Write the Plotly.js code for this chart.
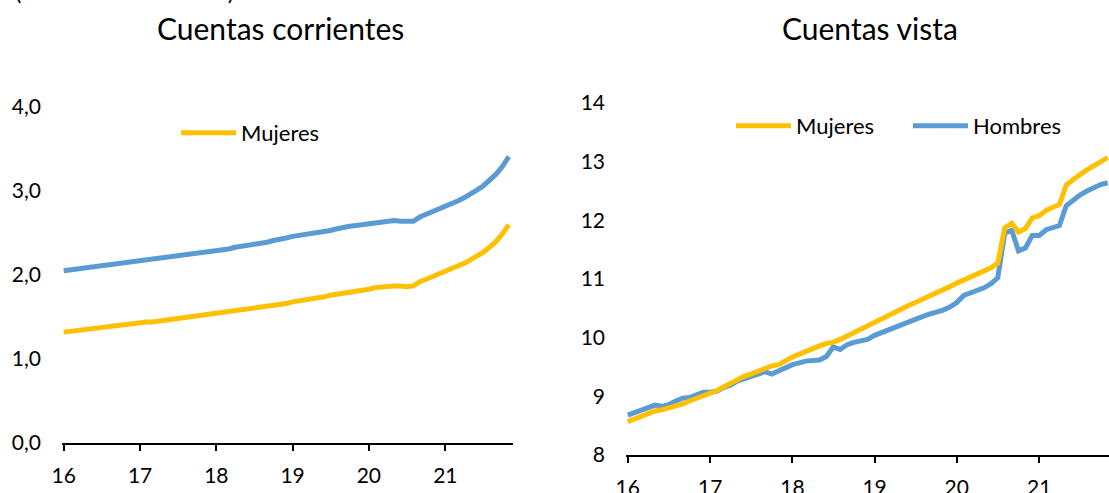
<!DOCTYPE html>
<html>
<head>
<meta charset="utf-8">
<script src="https://cdn.plot.ly/plotly-3.0.1.min.js"></script>
<style>
  html, body { margin: 0; padding: 0; background: #ffffff; }
  #grafico { width: 1109px; height: 493px; }
</style>
</head>
<body>
<div id="grafico"></div>
<script>
// Meses (ene-2016 a nov-2021)
const meses = [
  '2016-01-01','2016-02-01','2016-03-01','2016-04-01','2016-05-01','2016-06-01','2016-07-01','2016-08-01','2016-09-01','2016-10-01','2016-11-01','2016-12-01',
  '2017-01-01','2017-02-01','2017-03-01','2017-04-01','2017-05-01','2017-06-01','2017-07-01','2017-08-01','2017-09-01','2017-10-01','2017-11-01','2017-12-01',
  '2018-01-01','2018-02-01','2018-03-01','2018-04-01','2018-05-01','2018-06-01','2018-07-01','2018-08-01','2018-09-01','2018-10-01','2018-11-01','2018-12-01',
  '2019-01-01','2019-02-01','2019-03-01','2019-04-01','2019-05-01','2019-06-01','2019-07-01','2019-08-01','2019-09-01','2019-10-01','2019-11-01','2019-12-01',
  '2020-01-01','2020-02-01','2020-03-01','2020-04-01','2020-05-01','2020-06-01','2020-07-01','2020-08-01','2020-09-01','2020-10-01','2020-11-01','2020-12-01',
  '2021-01-01','2021-02-01','2021-03-01','2021-04-01','2021-05-01','2021-06-01','2021-07-01','2021-08-01','2021-09-01','2021-10-01','2021-11-01'
];

// Cuentas corrientes (millones de cuentas)
const corrientesMujeres = [
  1.32,1.33,1.34,1.35,1.36,1.37,1.38,1.39,1.40,1.41,1.42,1.42,
  1.43,1.44,1.44,1.45,1.46,1.47,1.48,1.49,1.50,1.51,1.52,1.53,
  1.54,1.55,1.56,1.57,1.58,1.59,1.60,1.61,1.62,1.64,1.65,1.66,
  1.68,1.69,1.70,1.71,1.73,1.74,1.76,1.77,1.79,1.80,1.81,1.82,
  1.83,1.85,1.86,1.87,1.87,1.87,1.86,1.87,1.92,1.95,1.98,2.01,
  2.04,2.07,2.10,2.14,2.18,2.22,2.27,2.33,2.40,2.49,2.60
];
const corrientesHombres = [
  2.05,2.06,2.07,2.08,2.09,2.10,2.11,2.12,2.13,2.14,2.15,2.16,
  2.17,2.18,2.19,2.20,2.21,2.22,2.23,2.24,2.25,2.26,2.27,2.28,
  2.29,2.30,2.31,2.33,2.34,2.35,2.36,2.38,2.39,2.41,2.42,2.44,
  2.46,2.47,2.48,2.49,2.50,2.52,2.53,2.55,2.57,2.58,2.59,2.60,
  2.61,2.62,2.63,2.64,2.65,2.64,2.64,2.64,2.69,2.72,2.75,2.78,
  2.81,2.84,2.88,2.92,2.96,3.01,3.06,3.13,3.20,3.29,3.41
];

// Cuentas vista (millones de cuentas)
const vistaMujeres = [
  8.57,8.62,8.66,8.70,8.75,8.77,8.80,8.83,8.87,8.92,8.96,9.00,
  9.04,9.10,9.16,9.22,9.29,9.34,9.38,9.43,9.48,9.52,9.54,9.61,
  9.67,9.72,9.77,9.82,9.86,9.90,9.92,9.97,10.03,10.08,10.15,10.21,
  10.28,10.33,10.39,10.45,10.50,10.55,10.60,10.65,10.70,10.75,10.80,10.87,
  10.93,10.98,11.04,11.09,11.14,11.19,11.27,11.87,11.95,11.80,11.86,12.04,
  12.08,12.17,12.22,12.27,12.60,12.70,12.78,12.86,12.93,13.00,13.07
];
const vistaHombres = [
  8.68,8.72,8.76,8.80,8.85,8.83,8.86,8.92,8.97,8.98,9.02,9.07,
  9.07,9.09,9.15,9.19,9.26,9.30,9.34,9.38,9.42,9.38,9.44,9.49,
  9.54,9.57,9.60,9.61,9.62,9.68,9.84,9.80,9.88,9.92,9.95,9.97,
  10.04,10.09,10.13,10.18,10.23,10.27,10.31,10.36,10.40,10.43,10.47,10.52,
  10.60,10.72,10.76,10.80,10.85,10.92,11.02,11.78,11.83,11.48,11.53,11.74,
  11.74,11.84,11.88,11.91,12.25,12.35,12.43,12.50,12.56,12.61,12.64
];

const titulos = ['Cuentas corrientes', 'Cuentas vista'];
const unidad = '(millones de cuentas)';

const AMARILLO = '#FFC000';
const AZUL = '#5B9BD5';
const FUENTE = 'Lato, "Open Sans", sans-serif';

const trazas = [
  { x: meses, y: corrientesHombres, name: 'Hombres', xaxis: 'x', yaxis: 'y',
    mode: 'lines', line: { color: AZUL, width: 5 }, showlegend: false },
  { x: meses, y: corrientesMujeres, name: 'Mujeres', xaxis: 'x', yaxis: 'y',
    mode: 'lines', line: { color: AMARILLO, width: 5 }, legend: 'legend' },
  { x: meses, y: vistaHombres, name: 'Hombres', xaxis: 'x2', yaxis: 'y2',
    mode: 'lines', line: { color: AZUL, width: 5 }, legend: 'legend2', legendrank: 2 },
  { x: meses, y: vistaMujeres, name: 'Mujeres', xaxis: 'x2', yaxis: 'y2',
    mode: 'lines', line: { color: AMARILLO, width: 5 }, legend: 'legend2', legendrank: 1 }
];

const ejeX = {
  type: 'date',
  tick0: '2016-01-01', dtick: 'M12', tickformat: '%y',
  showgrid: false, zeroline: false,
  showline: true, linecolor: '#000000', linewidth: 2,
  ticks: 'outside', ticklen: 6, tickwidth: 2, tickcolor: '#000000',
  ticklabelstandoff: 7,
  tickfont: { family: FUENTE, size: 21, color: '#000000' },
  fixedrange: true
};
const ejeY = {
  showgrid: false, zeroline: false, showline: false, ticks: '',
  ticklabelstandoff: 20,
  tickfont: { family: FUENTE, size: 21, color: '#000000' },
  fixedrange: true
};

const leyenda = {
  orientation: 'h', bgcolor: 'rgba(0,0,0,0)', borderwidth: 0,
  font: { family: FUENTE, size: 22, color: '#000000' },
  itemwidth: 55, tracegroupgap: 0, traceorder: 'normal',
  xanchor: 'left', yanchor: 'middle'
};

const layout = {
  width: 1109, height: 493,
  margin: { l: 0, r: 0, t: 0, b: 0 },
  paper_bgcolor: '#ffffff', plot_bgcolor: '#ffffff',
  separators: ',.',
  font: { family: FUENTE, color: '#000000' },
  xaxis: Object.assign({}, ejeX, {
    domain: [62 / 1109, 513 / 1109], range: ['2015-12-24', '2021-11-21'], anchor: 'y'
  }),
  yaxis: Object.assign({}, ejeY, {
    domain: [1 - 443 / 493, 1 - 107 / 493], range: [0, 4], dtick: 1, tickformat: '.1f', anchor: 'x'
  }),
  xaxis2: Object.assign({}, ejeX, {
    domain: [626 / 1109, 1], range: ['2015-12-24', '2021-11-07'], anchor: 'y2'
  }),
  yaxis2: Object.assign({}, ejeY, {
    domain: [1 - 455 / 493, 1 - 103 / 493], range: [8, 14], dtick: 1, tickformat: 'd', anchor: 'x2'
  }),
  legend: Object.assign({}, leyenda, { x: 176 / 1109, y: 1 - 133 / 493 }),
  legend2: Object.assign({}, leyenda, { x: 731 / 1109, y: 1 - 126 / 493, entrywidth: 107 }),
  annotations: [
    { text: titulos[0], xref: 'paper', yref: 'paper', x: 280 / 1109, y: 1 - 28 / 493,
      xanchor: 'center', yanchor: 'middle', showarrow: false,
      font: { family: FUENTE, size: 30, color: '#000000' } },
    { text: titulos[1], xref: 'paper', yref: 'paper', x: 870 / 1109, y: 1 - 28 / 493,
      xanchor: 'center', yanchor: 'middle', showarrow: false,
      font: { family: FUENTE, size: 30, color: '#000000' } },
    { text: unidad, xref: 'paper', yref: 'paper', x: 13 / 1109, y: 1 - 7.5 / 493,
      xanchor: 'left', yanchor: 'bottom', showarrow: false,
      font: { family: FUENTE, size: 24, color: '#000000' } }
  ]
};

Plotly.newPlot('grafico', trazas, layout, { displayModeBar: false, staticPlot: true });
</script>
</body>
</html>
